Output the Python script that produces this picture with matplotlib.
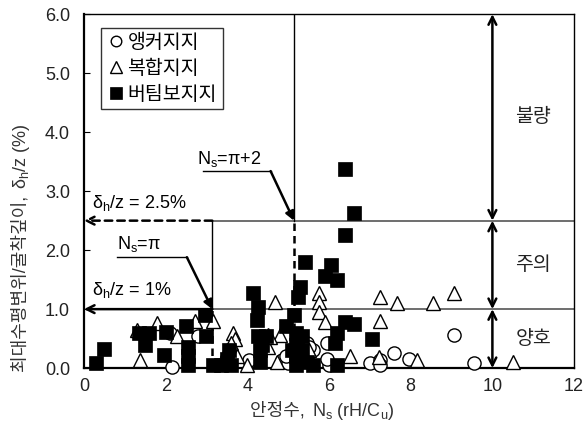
import matplotlib
matplotlib.use("Agg")
import matplotlib.pyplot as plt
import numpy as np

plt.rcParams['font.family'] = ['Liberation Sans', 'Noto Sans CJK KR', 'DejaVu Sans']
plt.rcParams['mathtext.fontset'] = 'custom'
plt.rcParams['mathtext.rm'] = 'Liberation Sans'
plt.rcParams['mathtext.it'] = 'Liberation Sans'
plt.rcParams['mathtext.bf'] = 'Liberation Sans:bold'

# 앵커지지 (circles)
anchor_x = [2.15, 2.1, 2.8, 4.05, 4.85, 5.0, 5.45, 5.6, 5.95, 6.0, 5.95, 7.0, 7.25, 7.25, 7.6, 7.95, 9.05, 9.55, 4.95, 5.5]
anchor_y = [0.02, 0.6, 0.55, 0.14, 0.14, 0.08, 0.42, 0.3, 0.42, 0.05, 0.15, 0.08, 0.14, 0.05, 0.25, 0.15, 0.56, 0.08, 0.2, 0.36]

# 복합지지 (triangles)
comp_x = [1.3, 1.37, 1.8, 2.28, 2.72, 3.17, 3.65, 3.7, 3.6, 3.5, 3.75, 4.0, 4.5, 4.5, 4.68, 4.8,
          4.73, 5.75, 5.75, 5.75, 5.9, 6.52, 7.25, 7.66, 8.55, 9.07, 7.25, 7.23, 8.15, 10.5, 5.5, 4.56]
comp_y = [0.65, 0.14, 0.76, 0.55, 0.8, 0.8, 0.6, 0.5, 0.42, 0.3, 0.2, 0.05, 0.56, 0.36, 1.12, 0.57,
          0.1, 1.28, 1.12, 0.95, 0.78, 0.2, 1.2, 1.1, 1.1, 1.27, 0.8, 0.19, 0.14, 0.1, 0.3, 0.53]

# 버팀보지지 (filled squares)
strut_x = [0.3, 0.5, 1.35, 1.6, 1.5, 1.95, 2.0, 2.5, 2.55, 2.55, 2.55, 2.97, 3.0, 3.15, 3.35, 3.5,
           3.55, 3.6, 4.15, 4.25, 4.23, 4.27, 4.3, 4.3, 4.35, 4.95, 5.15, 5.2, 5.2, 5.2, 5.2, 5.25,
           5.28, 5.4, 5.35, 5.45, 5.6, 5.9, 6.05, 6.2, 6.4, 6.4, 6.62, 6.4, 6.62, 6.2, 6.15, 6.2,
           7.05, 5.35, 5.1, 4.45]
strut_y = [0.08, 0.32, 0.6, 0.6, 0.4, 0.22, 0.62, 0.72, 0.35, 0.2, 0.05, 0.9, 0.55, 0.05, 0.05, 0.15,
           0.3, 0.05, 1.28, 1.03, 0.82, 0.55, 0.3, 0.1, 0.4, 0.72, 0.9, 0.6, 0.4, 0.2, 0.05, 1.2,
           1.37, 1.8, 0.3, 0.1, 0.05, 1.57, 1.75, 1.5, 2.25, 3.37, 2.63, 0.78, 0.75, 0.6, 0.42, 0.05,
           0.5, 0.55, 0.3, 0.55]

xticks = [0, 2, 4, 6, 8, 10, 12]
yticks = [0.0, 1.0, 2.0, 3.0, 4.0, 5.0, 6.0]

PI = np.pi
FS = 13      # latin text
FK = 14      # korean text
W, H = 587, 443
fig = plt.figure(figsize=(W / 100, H / 100), dpi=100)
ax = fig.add_axes([0.143, 0.169, 0.835, 0.799])
ax.set_xlim(0, 12)
ax.set_ylim(0, 6)

# reference lines
grey = '#555555'
ax.plot([PI, 12], [1.0, 1.0], color=grey, lw=1.2, zorder=1)
ax.plot([PI, 12], [2.5, 2.5], color=grey, lw=1.2, zorder=1)
ax.plot([PI, PI], [1.0, 2.5], color='black', lw=1.0, zorder=1)
ax.plot([PI, PI], [0.0, 1.0], color='black', lw=1.8, ls=(0, (3, 2)), zorder=1)
ax.plot([PI + 2, PI + 2], [2.5, 6.0], color='black', lw=1.0, zorder=1)
ax.plot([PI + 2, PI + 2], [0.0, 2.5], color='black', lw=1.8, ls=(0, (3, 2)), zorder=1)
# left arrows
ax.annotate('', xy=(0.0, 1.0), xytext=(PI, 1.0),
            arrowprops=dict(arrowstyle='->', lw=1.8, color='black', mutation_scale=14,
                            shrinkA=0, shrinkB=0))
ax.annotate('', xy=(0.0, 2.5), xytext=(PI, 2.5),
            arrowprops=dict(arrowstyle='->', lw=1.8, color='black', ls=(0, (3, 2)), mutation_scale=14,
                            shrinkA=0, shrinkB=0))

# markers
ax.plot(anchor_x, anchor_y, 'o', ms=9.5, mfc='white', mec='black', mew=1.0, ls='none',
        clip_on=False, zorder=3, label='앵커지지')
ax.plot(comp_x, comp_y, '^', ms=10, mfc='white', mec='black', mew=1.0, ls='none',
        clip_on=False, zorder=3, label='복합지지')
ax.plot(strut_x, strut_y, 's', ms=10, mfc='black', mec='black', mew=0.5, ls='none',
        clip_on=False, zorder=4, label='버팀보지지')

# double arrows on the right
for y0, y1 in [(6.0, 2.5), (2.5, 1.0), (1.0, 0.0)]:
    ax.annotate('', xy=(10, y0), xytext=(10, y1),
                arrowprops=dict(arrowstyle='<->', lw=1.8, color='black', mutation_scale=14,
                                shrinkA=0, shrinkB=0))
ax.text(11.0, 4.25, '불량', ha='center', va='center', fontsize=FK, color='#222222')
ax.text(11.0, 1.75, '주의', ha='center', va='center', fontsize=FK, color='#222222')
ax.text(11.0, 0.5, '양호', ha='center', va='center', fontsize=FK, color='#222222')

# annotations
ax.text(3.55, 3.55, r'N$_\mathregular{s}$=π+2', fontsize=FS, ha='center', va='center')
ax.plot([2.92, 4.57], [3.34, 3.34], color='black', lw=1.0)
ax.annotate('', xy=(PI + 2, 2.5), xytext=(4.57, 3.34),
            arrowprops=dict(arrowstyle='-|>', lw=1.8, color='black', mutation_scale=13,
                            shrinkA=0, shrinkB=0))
ax.text(1.35, 2.1, r'N$_\mathregular{s}$=π', fontsize=FS, ha='center', va='center')
ax.plot([0.81, 2.52], [1.88, 1.88], color='black', lw=1.0)
ax.annotate('', xy=(PI, 1.0), xytext=(2.52, 1.88),
            arrowprops=dict(arrowstyle='-|>', lw=1.8, color='black', mutation_scale=13,
                            shrinkA=0, shrinkB=0))
ax.text(0.2, 2.8, r'$\delta_\mathregular{h}$/z = 2.5%', fontsize=FS, ha='left', va='center')
ax.text(0.2, 1.32, r'$\delta_\mathregular{h}$/z = 1%', fontsize=FS, ha='left', va='center')

# legend
leg = ax.legend(loc='upper left', bbox_to_anchor=(0.035, 0.962), fontsize=FK, frameon=True,
                fancybox=False, edgecolor='black', handletextpad=0.15, handlelength=0.9,
                borderpad=0.3, labelspacing=0.4, borderaxespad=0, markerscale=0.8)
leg.get_frame().set_linewidth(1.0)

ax.set_xticks(xticks)
ax.set_yticks(yticks)
ax.set_yticklabels([f'{v:.1f}' for v in yticks])
ax.tick_params(axis='x', length=0, labelsize=FS, pad=7, colors='#222222')
ax.tick_params(axis='y', direction='in', length=4, labelsize=FS, pad=10, colors='#222222')
ax.tick_params(axis='both', color='black')
for s in ['left', 'bottom']:
    ax.spines[s].set_linewidth(1.6)
for s in ['top', 'right']:
    ax.spines[s].set_linewidth(1.0)

# axis labels (Korean part and math part drawn as adjacent texts)
lab_c = '#333333'
renderer = fig.canvas.get_renderer()
# x label
xk = fig.text(250 / W, 1 - 416 / H, '안정수, ', fontsize=FS, color=lab_c,
              ha='left', va='baseline')
bb = xk.get_window_extent(renderer)
fig.text(bb.x1 / W + 2 / W, 1 - 416 / H, r'N$_\mathregular{s}$ (rH/C$_\mathregular{u}$)', fontsize=FS,
         color=lab_c, ha='left', va='baseline')
# y label
yx = 26 / W
yk = fig.text(yx, 1 - 372 / H, '최대수평변위/굴착깊이, ', fontsize=FS, color=lab_c,
              rotation=90, rotation_mode='anchor', ha='left', va='baseline')
bb = yk.get_window_extent(renderer)
fig.text(yx, bb.y1 / H + 2 / H, r'$\delta_\mathregular{h}$/z (%)', fontsize=FS, color=lab_c,
         rotation=90, rotation_mode='anchor', ha='left', va='baseline')

fig.savefig('out.png', dpi=100)
